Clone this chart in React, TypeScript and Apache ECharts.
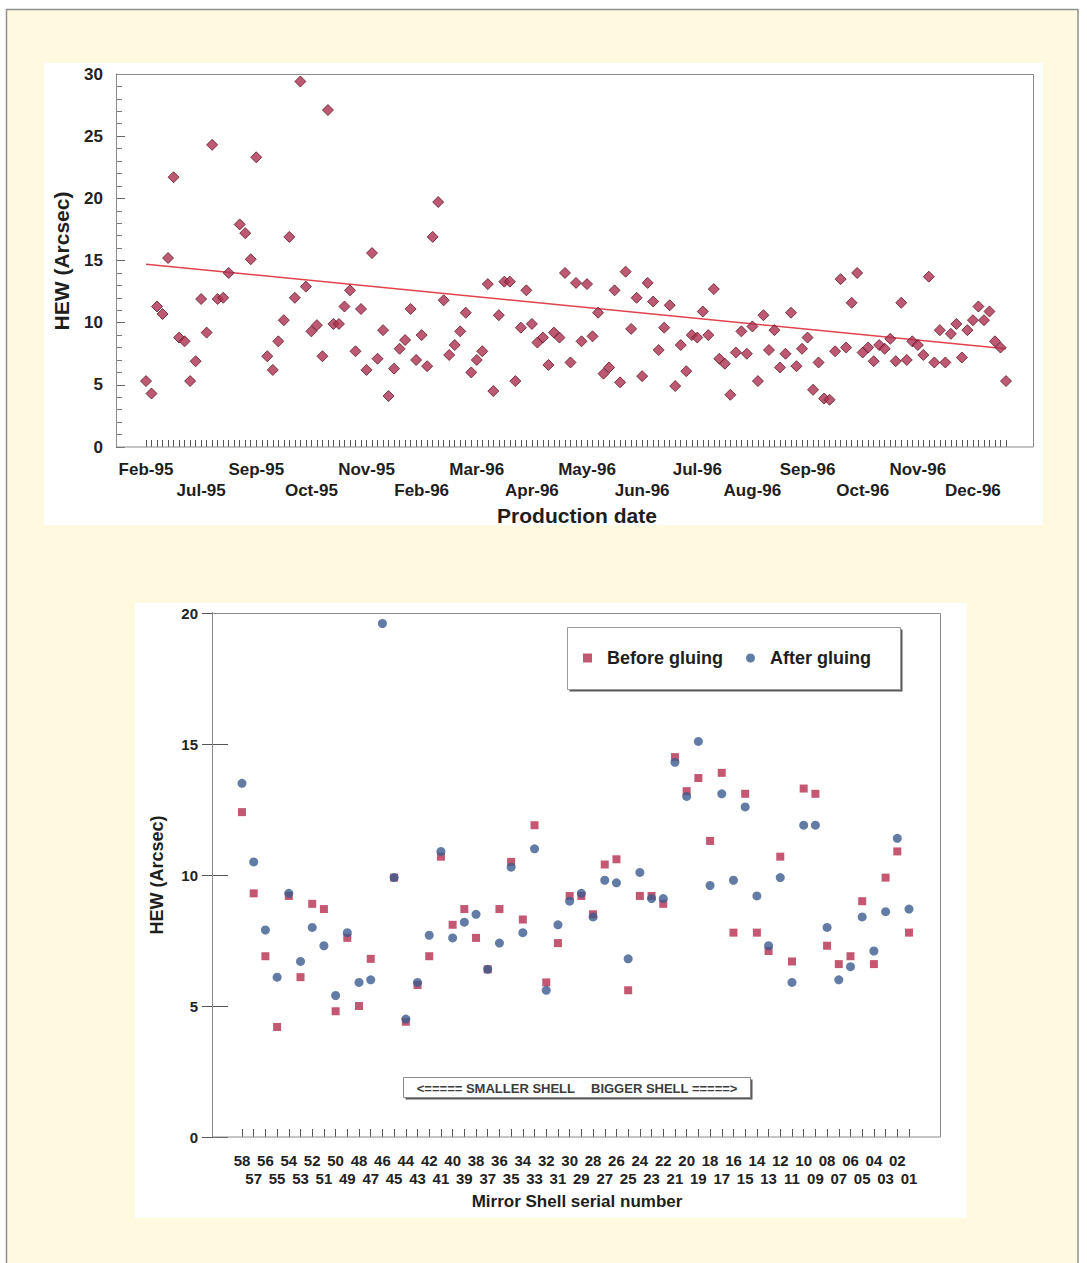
import React, { useEffect, useRef } from "react";
import * as echarts from "echarts";

// ---------- Top chart data: HEW vs production date ----------
const monthLabels = [
  "Feb-95", "Jul-95", "Sep-95", "Oct-95", "Nov-95", "Feb-96", "Mar-96", "Apr-96",
  "May-96", "Jun-96", "Jul-96", "Aug-96", "Sep-96", "Oct-96", "Nov-96", "Dec-96",
];
const LABEL_EVERY = 10;

const productionHew: (number | null)[] = [
  5.3, 4.3, 11.3, 10.7, 15.2, 21.7, 8.8, 8.5, 5.3, 6.9,
  11.9, 9.2, 24.3, 11.9, 12.0, 14.0, null, 17.9, 17.2, 15.1,
  23.3, null, 7.3, 6.2, 8.5, 10.2, 16.9, 12.0, 29.4, 12.9,
  9.3, 9.8, 7.3, 27.1, 9.9, 9.9, 11.3, 12.6, 7.7, 11.1,
  6.2, 15.6, 7.1, 9.4, 4.1, 6.3, 7.9, 8.6, 11.1, 7.0,
  9.0, 6.5, 16.9, 19.7, 11.8, 7.4, 8.2, 9.3, 10.8, 6.0,
  7.0, 7.7, 13.1, 4.5, 10.6, 13.3, 13.3, 5.3, 9.6, 12.6,
  9.9, 8.4, 8.8, 6.6, 9.2, 8.8, 14.0, 6.8, 13.2, 8.5,
  13.1, 8.9, 10.8, 5.9, 6.4, 12.6, 5.2, 14.1, 9.5, 12.0,
  5.7, 13.2, 11.7, 7.8, 9.6, 11.4, 4.9, 8.2, 6.1, 9.0,
  8.8, 10.9, 9.0, 12.7, 7.1, 6.7, 4.2, 7.6, 9.3, 7.5,
  9.7, 5.3, 10.6, 7.8, 9.4, 6.4, 7.5, 10.8, 6.5, 7.9,
  8.8, 4.6, 6.8, 3.9, 3.8, 7.7, 13.5, 8.0, 11.6, 14.0,
  7.6, 8.0, 6.9, 8.2, 7.9, 8.7, 6.9, 11.6, 7.0, 8.5,
  8.2, 7.4, 13.7, 6.8, 9.4, 6.8, 9.1, 9.9, 7.2, 9.4,
  10.2, 11.3, 10.2, 10.9, 8.5, 8.0, 5.3,
];
const trendStart = 14.7;
const trendEnd = 7.9;
const topYTicks = { min: 0, max: 30, interval: 5 };

// ---------- Bottom chart data: HEW per mirror shell ----------
const shellNumbers = [
  "58", "57", "56", "55", "54", "53", "52", "51", "50", "49",
  "48", "47", "46", "45", "44", "43", "42", "41", "40", "39",
  "38", "37", "36", "35", "34", "33", "32", "31", "30", "29",
  "28", "27", "26", "25", "24", "23", "22", "21", "20", "19",
  "18", "17", "16", "15", "14", "13", "12", "11", "10", "09",
  "08", "07", "06", "05", "04", "03", "02", "01",
];
const beforeGluing: (number | null)[] = [
  12.4, 9.3, 6.9, 4.2, 9.2, 6.1, 8.9, 8.7, 4.8, 7.6,
  5.0, 6.8, null, 9.9, 4.4, 5.8, 6.9, 10.7, 8.1, 8.7,
  7.6, 6.4, 8.7, 10.5, 8.3, 11.9, 5.9, 7.4, 9.2, 9.2,
  8.5, 10.4, 10.6, 5.6, 9.2, 9.2, 8.9, 14.5, 13.2, 13.7,
  11.3, 13.9, 7.8, 13.1, 7.8, 7.1, 10.7, 6.7, 13.3, 13.1,
  7.3, 6.6, 6.9, 9.0, 6.6, 9.9, 10.9, 7.8,
];
const afterGluing: (number | null)[] = [
  13.5, 10.5, 7.9, 6.1, 9.3, 6.7, 8.0, 7.3, 5.4, 7.8,
  5.9, 6.0, 19.6, 9.9, 4.5, 5.9, 7.7, 10.9, 7.6, 8.2,
  8.5, 6.4, 7.4, 10.3, 7.8, 11.0, 5.6, 8.1, 9.0, 9.3,
  8.4, 9.8, 9.7, 6.8, 10.1, 9.1, 9.1, 14.3, 13.0, 15.1,
  9.6, 13.1, 9.8, 12.6, 9.2, 7.3, 9.9, 5.9, 11.9, 11.9,
  8.0, 6.0, 6.5, 8.4, 7.1, 8.6, 11.4, 8.7,
];
const bottomYTicks = { min: 0, max: 20, interval: 5 };

const FONT = "'Liberation Sans', Arial, Helvetica, sans-serif";
const RED = "#b52d4e";
const BLUE = "#3b5b8e";

export default function App() {
  const ref = useRef<HTMLDivElement>(null);

  useEffect(() => {
    if (!ref.current) return;
    const chart = echarts.init(ref.current, null, { renderer: "svg" });

    const topCats = productionHew.map((_, i) => String(i));
    const lastIdx = topCats.length - 1;
    const trendData = topCats.map((_, i) =>
      i === 0 ? trendStart : i === lastIdx ? trendEnd : null
    );

    const txt = (
      text: string, x: number, y: number, size: number,
      opts: { rotate?: boolean; align?: string; color?: string } = {}
    ) => ({
      type: "text",
      x, y,
      rotation: opts.rotate ? Math.PI / 2 : 0,
      z: 20,
      style: {
        text, x: 0, y: 0,
        fontSize: size, fontWeight: "bold", fontFamily: FONT,
        fill: opts.color || "#1e1e1e",
        align: opts.align || "center", textAlign: opts.align || "center",
        verticalAlign: "middle", textVerticalAlign: "middle",
      },
    });

    const option: any = {
      animation: false,
      backgroundColor: "#ffffff",
      graphic: [
        // page (cream sheet with grey border)
        { type: "rect", z: -30, shape: { x: 6.5, y: 9.5, width: 1071.5, height: 1280 },
          style: { fill: "#fffadf", stroke: "#8f8f8f", lineWidth: 1.5 } },
        // white panels
        { type: "rect", z: -20, shape: { x: 44, y: 63, width: 999, height: 462 }, style: { fill: "#ffffff" } },
        { type: "rect", z: -20, shape: { x: 135, y: 603, width: 832, height: 615 }, style: { fill: "#ffffff" } },
        // plot frames
        { type: "rect", z: 1, shape: { x: 116.5, y: 74.5, width: 917, height: 372.5 },
          style: { fill: "transparent", stroke: "#8a8a8a", lineWidth: 1 } },
        { type: "rect", z: 1, shape: { x: 212.5, y: 613.5, width: 728, height: 523.5 },
          style: { fill: "transparent", stroke: "#8a8a8a", lineWidth: 1 } },
        // legend box with shadow
        { type: "rect", z: 3, shape: { x: 569.5, y: 629.5, width: 333, height: 62 }, style: { fill: "#5a5a5a" } },
        { type: "rect", z: 4, shape: { x: 567.5, y: 627.5, width: 333, height: 62 },
          style: { fill: "#ffffff", stroke: "#9a9a9a", lineWidth: 1 } },
        // shell-size box with shadow
        { type: "rect", z: 3, shape: { x: 405.5, y: 1079.5, width: 347, height: 20 }, style: { fill: "#5a5a5a" } },
        { type: "rect", z: 4, shape: { x: 403.5, y: 1077.5, width: 347, height: 20 },
          style: { fill: "#ffffff", stroke: "#8a8a8a", lineWidth: 1 } },
        txt("<===== SMALLER SHELL", 575, 1088, 13, { align: "right", color: "#3c3c3c" }),
        txt("BIGGER SHELL =====>", 591, 1088, 13, { align: "left", color: "#3c3c3c" }),
        // axis titles
        txt("HEW (Arcsec)", 61, 261, 21, { rotate: true }),
        txt("Production date", 577, 515, 21),
        txt("HEW (Arcsec)", 157, 875, 18, { rotate: true }),
        txt("Mirror Shell serial number", 577, 1201, 17),
      ],
      legend: {
        data: [
          { name: "Before gluing", icon: "rect" },
          { name: "After gluing", icon: "circle" },
        ],
        left: 583,
        top: 649,
        padding: 0,
        itemWidth: 9,
        itemHeight: 9,
        itemGap: 23,
        z: 10,
        textStyle: {
          fontSize: 18, fontWeight: "bold", fontFamily: FONT, color: "#1e1e1e",
          padding: [0, 0, 0, 10],
        },
      },
      grid: [
        { left: 146, width: 860, top: 74, height: 373, containLabel: false },
        { left: 242, width: 667, top: 613, height: 524, containLabel: false },
      ],
      xAxis: [
        {
          type: "category",
          gridIndex: 0,
          position: "bottom",
          data: topCats,
          boundaryGap: false,
          axisLine: { show: false },
          axisTick: { show: true, inside: true, length: 7, interval: 0, lineStyle: { color: "#555", width: 1 } },
          axisLabel: {
            interval: LABEL_EVERY - 1,
            showMinLabel: true,
            showMaxLabel: true,
            hideOverlap: false,
            margin: 12,
            fontSize: 17, fontWeight: "bold", fontFamily: FONT, color: "#1e1e1e",
            lineHeight: 21,
            formatter: (_: string, index: number) => {
              const k = Math.round(index / LABEL_EVERY);
              const t = monthLabels[k] ?? "";
              return k % 2 === 1 ? "\n" + t : t;
            },
          },
          splitLine: { show: false },
        },
        {
          type: "category",
          gridIndex: 1,
          position: "bottom",
          data: shellNumbers,
          boundaryGap: false,
          axisLine: { show: false },
          axisTick: { show: true, inside: true, length: 8, interval: 0, lineStyle: { color: "#555", width: 1 } },
          axisLabel: {
            interval: 0,
            showMinLabel: true,
            showMaxLabel: true,
            hideOverlap: false,
            margin: 14,
            fontSize: 15, fontWeight: "bold", fontFamily: FONT, color: "#222",
            lineHeight: 18,
            formatter: (v: string, index: number) => (index % 2 === 1 ? "\n" + v : v),
          },
          splitLine: { show: false },
        },
      ],
      yAxis: [
        {
          type: "value",
          gridIndex: 0,
          position: "left",
          offset: 30,
          ...topYTicks,
          axisLine: { show: true, lineStyle: { color: "#555", width: 1 } },
          axisTick: { show: true, inside: true, length: 9, lineStyle: { color: "#666" } },
          minorTick: { show: true, splitNumber: 5, length: 6, lineStyle: { color: "#777" } },
          axisLabel: { margin: 13, fontSize: 17, fontWeight: "bold", fontFamily: FONT, color: "#222" },
          splitLine: { show: false },
        },
        {
          type: "value",
          gridIndex: 1,
          position: "left",
          offset: 30,
          ...bottomYTicks,
          axisLine: { show: true, lineStyle: { color: "#444", width: 1 } },
          axisTick: { show: true, inside: true, length: 16, lineStyle: { color: "#555" } },
          axisLabel: { margin: 14, fontSize: 15, fontWeight: "bold", fontFamily: FONT, color: "#222" },
          splitLine: { show: false },
        },
        {
          type: "value",
          gridIndex: 1,
          position: "left",
          offset: 30,
          ...bottomYTicks,
          axisLine: { show: false },
          axisTick: { show: true, inside: false, length: 10, lineStyle: { color: "#555" } },
          axisLabel: { show: false },
          splitLine: { show: false },
        },
      ],
      series: [
        {
          name: "Production HEW",
          type: "scatter",
          xAxisIndex: 0,
          yAxisIndex: 0,
          symbol: "diamond",
          symbolSize: [11, 11],
          itemStyle: { color: "#ad2f4f", borderColor: "#5e1a2b", borderWidth: 1 },
          data: productionHew,
          z: 5,
        },
        {
          name: "Trend",
          type: "line",
          xAxisIndex: 0,
          yAxisIndex: 0,
          data: trendData,
          connectNulls: true,
          symbol: "none",
          lineStyle: { color: "#e0424e", width: 1.5 },
          z: 4,
        },
        {
          name: "Before gluing",
          type: "scatter",
          xAxisIndex: 1,
          yAxisIndex: 1,
          symbol: "rect",
          symbolSize: 8,
          itemStyle: { color: RED },
          data: beforeGluing,
          z: 5,
        },
        {
          name: "After gluing",
          type: "scatter",
          xAxisIndex: 1,
          yAxisIndex: 1,
          symbol: "circle",
          symbolSize: 9,
          itemStyle: { color: BLUE, opacity: 0.8 },
          data: afterGluing,
          z: 6,
        },
      ],
    };

    chart.setOption(option);
    return () => chart.dispose();
  }, []);

  return (
    <div
      ref={ref}
      style={{ position: "absolute", left: 0, top: 0, width: 1087, height: 1263 }}
    />
  );
}
